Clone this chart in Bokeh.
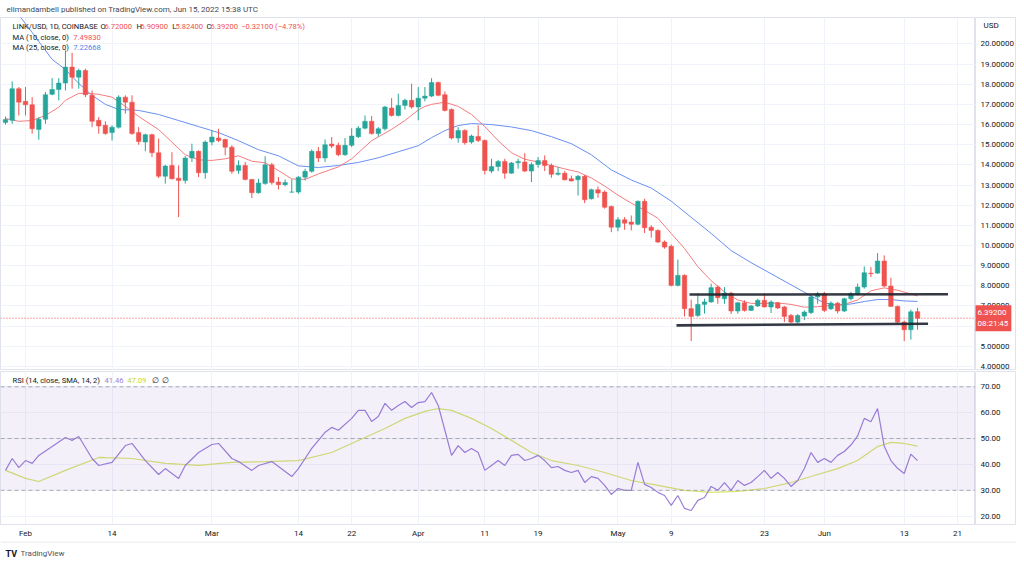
import numpy as np
import pandas as pd
from bokeh.plotting import figure
from bokeh.layouts import column, row
from bokeh.models import (ColumnDataSource, FixedTicker, Span, BoxAnnotation, Label,
                          Range1d, Grid)
from bokeh.core.properties import value
from bokeh.embed import file_html
from bokeh.resources import INLINE

FONT = "Roboto"
BASE = pd.Timestamp("2022-02-01")

# ---------------- data ----------------
candle_dates = pd.date_range("2022-01-29", "2022-06-15", freq="D").strftime("%Y-%m-%d").tolist()

opens = [16.10, 16.21, 17.78,
         17.15, 16.98, 15.76, 16.26, 17.50, 17.74, 18.06, 18.85, 18.35, 18.68, 17.45, 16.21, 15.96, 15.60,
         15.87, 17.36, 17.11, 15.60, 15.13, 15.50, 14.60, 13.44, 13.97, 13.34, 13.23, 14.34, 14.67, 13.61,
         15.13, 15.33, 15.26, 14.88, 13.72, 13.97, 13.28, 12.62, 13.07, 14.00, 13.15, 13.02, 12.65, 12.65,
         13.39, 13.68, 14.67, 14.34, 15.03, 14.97, 14.50, 14.97, 15.40, 15.82, 16.16, 15.55, 15.79, 16.82,
         16.45, 16.95, 17.20,
         16.87, 17.31, 17.41, 18.08, 17.48, 16.75, 15.33, 15.71, 15.13, 15.41, 15.21, 13.69, 13.92, 14.17,
         13.59, 14.10, 14.14, 13.69, 14.02, 14.22, 13.97, 13.53, 13.59, 13.31, 13.26, 13.43, 12.32, 12.77,
         12.65, 11.94,
         10.91, 11.28, 11.16, 11.05, 12.19, 10.91, 10.75, 10.17, 9.96, 8.02, 8.52, 6.87, 6.53, 7.08, 7.20,
         7.94, 7.36, 7.64, 6.75, 7.16, 6.78, 7.00, 7.28, 6.95, 7.16, 6.95, 6.53, 6.20, 6.50, 6.67, 7.45,
         7.61, 6.86, 7.14, 6.75, 7.36, 7.58, 7.94, 8.63, 8.63, 9.23, 7.99, 6.98, 6.20, 5.82, 6.72]
highs = [16.40, 18.14, 17.86,
         17.86, 17.36, 16.37, 17.61, 18.30, 18.30, 19.68, 19.56, 18.77, 18.77, 17.69, 16.37, 16.16, 15.96,
         17.45, 17.45, 17.45, 15.87, 15.55, 15.55, 15.30, 14.00, 14.63, 13.97, 14.43, 15.05, 14.72, 15.21,
         15.71, 15.79, 15.30, 14.97, 14.22, 14.14, 13.30, 13.31, 14.43, 14.10, 13.39, 13.28, 13.28, 13.44,
         13.81, 14.77, 14.88, 15.26, 15.38, 15.10, 15.33, 15.82, 15.92, 16.45, 16.42, 15.87, 16.92, 17.31,
         17.53, 17.28, 18.03,
         17.86, 17.86, 18.30, 18.13, 17.64, 16.80, 15.87, 15.76, 15.50, 15.96, 15.26, 14.30, 14.25, 14.30,
         14.14, 14.30, 14.58, 14.12, 14.39, 14.47, 14.07, 13.89, 13.69, 13.47, 13.50, 13.50, 12.82, 12.93,
         12.73, 11.98,
         11.41, 11.41, 11.49, 12.24, 12.32, 11.00, 10.80, 10.25, 10.05, 9.30, 8.57, 7.31, 7.61, 7.36, 8.11,
         8.02, 7.94, 7.70, 7.20, 7.28, 7.05, 7.36, 7.61, 7.28, 7.20, 7.00, 6.60, 6.60, 6.78, 7.53, 7.70,
         7.70, 7.23, 7.20, 7.41, 7.70, 8.11, 8.96, 8.93, 9.62, 9.51, 8.40, 7.02, 6.28, 6.82, 6.909]
lows = [16.00, 16.04, 16.45,
        16.45, 15.55, 15.25, 16.04, 17.45, 17.20, 17.69, 17.78, 17.78, 17.36, 15.87, 15.55, 15.50, 15.21,
        15.80, 16.54, 15.50, 15.00, 14.67, 14.39, 13.34, 13.07, 13.27, 11.41, 13.07, 14.14, 13.39, 13.31,
        14.97, 15.13, 14.47, 13.56, 13.56, 13.23, 12.35, 12.57, 13.02, 13.02, 12.78, 12.94, 12.62, 12.57,
        13.23, 13.61, 14.14, 14.14, 14.83, 14.43, 14.45, 14.88, 15.33, 15.76, 15.50, 15.40, 15.71, 16.40,
        16.40, 16.75, 16.79,
        16.21, 17.15, 17.36, 17.40, 16.65, 15.26, 15.10, 15.00, 15.05, 15.13, 13.53, 13.59, 13.69, 13.31,
        13.56, 13.81, 13.64, 13.15, 13.86, 13.69, 13.36, 13.47, 13.23, 13.18, 12.48, 12.10, 12.28, 12.37,
        11.83, 10.66,
        10.71, 10.78, 10.75, 11.00, 10.62, 10.39, 10.12, 9.84, 7.97, 7.97, 6.48, 5.26, 6.45, 6.62, 7.16,
        7.11, 7.11, 6.60, 6.62, 6.72, 6.75, 6.95, 6.93, 6.65, 6.85, 6.20, 6.15, 6.13, 6.30, 6.60, 7.11,
        6.70, 6.80, 6.63, 6.70, 7.28, 7.53, 7.86, 8.43, 8.60, 7.94, 6.95, 6.13, 5.26, 5.33, 5.824]
closes = [16.25, 17.78, 17.11,
          16.98, 15.79, 16.26, 17.48, 17.74, 18.06, 18.85, 18.35, 18.68, 17.48, 16.16, 15.93, 15.55, 15.87,
          17.36, 17.11, 15.55, 15.16, 15.50, 14.60, 13.44, 13.94, 13.31, 13.23, 14.34, 14.67, 13.61, 15.13,
          15.38, 15.21, 14.88, 13.68, 13.97, 13.28, 12.62, 13.10, 14.00, 13.12, 13.02, 13.12, 12.65, 13.39,
          13.68, 14.67, 14.34, 15.00, 14.93, 14.50, 14.97, 15.43, 15.82, 16.16, 15.55, 15.79, 16.87, 16.45,
          16.95, 17.20, 16.87,
          17.31, 17.41, 18.08, 17.45, 16.70, 15.33, 15.71, 15.10, 15.43, 15.21, 13.72, 13.92, 14.17, 13.59,
          14.09, 14.17, 13.69, 14.02, 14.22, 13.97, 13.53, 13.59, 13.26, 13.20, 13.43, 12.27, 12.77, 12.60,
          11.90, 10.91,
          11.28, 11.11, 11.05, 12.19, 10.88, 10.75, 10.17, 9.92, 8.02, 8.52, 6.87, 6.48, 7.08, 7.20, 7.91,
          7.41, 7.64, 6.75, 7.16, 6.78, 7.00, 7.28, 6.95, 7.20, 6.90, 6.48, 6.20, 6.53, 6.70, 7.45, 7.61,
          6.78, 7.14, 6.75, 7.36, 7.61, 7.94, 8.65, 8.60, 9.23, 7.99, 6.98, 6.20, 5.82, 6.713, 6.392]

ma10_dates = ["2022-01-29", "2022-01-31", "2022-02-02", "2022-02-04", "2022-02-06", "2022-02-07",
              "2022-02-09", "2022-02-11", "2022-02-12", "2022-02-14", "2022-02-16", "2022-02-18",
              "2022-02-21", "2022-02-23", "2022-02-25", "2022-02-27", "2022-03-01", "2022-03-03",
              "2022-03-05", "2022-03-07", "2022-03-09", "2022-03-11", "2022-03-13", "2022-03-15",
              "2022-03-17", "2022-03-20", "2022-03-22", "2022-03-25", "2022-03-28", "2022-03-30",
              "2022-04-01", "2022-04-02", "2022-04-03", "2022-04-05", "2022-04-07", "2022-04-09",
              "2022-04-11", "2022-04-13", "2022-04-15", "2022-04-17", "2022-04-19", "2022-04-21",
              "2022-04-23", "2022-04-25", "2022-04-27", "2022-04-29", "2022-05-01", "2022-05-03",
              "2022-05-05", "2022-05-07", "2022-05-09", "2022-05-11", "2022-05-13", "2022-05-15",
              "2022-05-17", "2022-05-19", "2022-05-21", "2022-05-23", "2022-05-25", "2022-05-27",
              "2022-05-29", "2022-05-31", "2022-06-02", "2022-06-04", "2022-06-06", "2022-06-08",
              "2022-06-10", "2022-06-12", "2022-06-14", "2022-06-15"]
ma10_vals = [16.30, 16.16, 16.20, 16.45, 16.86, 17.20, 17.55, 17.53, 17.50, 17.36, 16.90, 16.40,
             15.75, 15.13, 14.50, 14.25, 14.22, 14.30, 14.45, 14.18, 14.10, 13.72, 13.30, 13.28,
             13.55, 13.90, 14.30, 15.20, 15.76, 16.20, 16.72, 16.90, 17.00, 17.11, 16.90, 16.50,
             15.90, 15.20, 14.60, 14.28, 14.14, 13.97, 13.80, 13.65, 13.35, 12.95, 12.50, 12.10,
             11.75, 11.35, 10.60, 9.85, 8.95, 8.25, 7.70, 7.30, 7.13, 7.12, 7.15, 7.08,
             6.94, 6.96, 7.03, 7.08, 7.30, 7.75, 7.90, 7.78, 7.60, 7.4983]

ma25_dates = ["2022-01-29", "2022-02-01", "2022-02-02", "2022-02-03", "2022-02-05", "2022-02-07",
              "2022-02-09", "2022-02-11", "2022-02-13", "2022-02-15", "2022-02-18", "2022-02-21",
              "2022-02-24", "2022-02-27", "2022-03-02", "2022-03-05", "2022-03-08", "2022-03-11",
              "2022-03-14", "2022-03-17", "2022-03-20", "2022-03-23", "2022-03-26", "2022-03-29",
              "2022-04-01", "2022-04-03", "2022-04-05", "2022-04-07", "2022-04-09", "2022-04-12",
              "2022-04-15", "2022-04-18", "2022-04-21", "2022-04-24", "2022-04-27", "2022-04-30",
              "2022-05-03", "2022-05-06", "2022-05-09", "2022-05-12", "2022-05-15", "2022-05-18",
              "2022-05-21", "2022-05-24", "2022-05-27", "2022-05-30", "2022-06-01", "2022-06-03",
              "2022-06-05", "2022-06-07", "2022-06-09", "2022-06-11", "2022-06-13", "2022-06-15"]
ma25_vals = [22.3, 21.0, 20.57, 20.12, 19.23, 18.73, 18.04, 17.45, 17.0, 16.75, 16.7, 16.5,
             16.2, 15.9, 15.6, 15.2, 14.75, 14.45, 13.95, 13.87, 13.97, 14.12, 14.35, 14.65,
             14.95, 15.35, 15.7, 15.95, 16.05, 16.0, 15.88, 15.7, 15.4, 15.05, 14.5, 13.75,
             13.25, 12.85, 12.2, 11.4, 10.6, 9.75, 9.15, 8.6, 8.05, 7.5, 7.15, 7.04,
             7.1, 7.22, 7.32, 7.32, 7.25, 7.22668]

rsi_dates = ["2022-01-29", "2022-01-30", "2022-01-31", "2022-02-01", "2022-02-02", "2022-02-03",
             "2022-02-05", "2022-02-07", "2022-02-08", "2022-02-09", "2022-02-11", "2022-02-12",
             "2022-02-14", "2022-02-16", "2022-02-17", "2022-02-19", "2022-02-21", "2022-02-22",
             "2022-02-24", "2022-02-25", "2022-02-27", "2022-03-01", "2022-03-02", "2022-03-04",
             "2022-03-05", "2022-03-07", "2022-03-08", "2022-03-10", "2022-03-11", "2022-03-13",
             "2022-03-14", "2022-03-15", "2022-03-16", "2022-03-17", "2022-03-18", "2022-03-19",
             "2022-03-20", "2022-03-22", "2022-03-23", "2022-03-24", "2022-03-25", "2022-03-26",
             "2022-03-27", "2022-03-28", "2022-03-29", "2022-03-30", "2022-03-31", "2022-04-01",
             "2022-04-02", "2022-04-03", "2022-04-04", "2022-04-05", "2022-04-06", "2022-04-07",
             "2022-04-08", "2022-04-09", "2022-04-10", "2022-04-11", "2022-04-12", "2022-04-13",
             "2022-04-14", "2022-04-15", "2022-04-16", "2022-04-17", "2022-04-18", "2022-04-19",
             "2022-04-20", "2022-04-21", "2022-04-22", "2022-04-23", "2022-04-24", "2022-04-25",
             "2022-04-26", "2022-04-27", "2022-04-28", "2022-04-29", "2022-04-30", "2022-05-01",
             "2022-05-02", "2022-05-03", "2022-05-04", "2022-05-05", "2022-05-06", "2022-05-07",
             "2022-05-08", "2022-05-09", "2022-05-10", "2022-05-11", "2022-05-12", "2022-05-13",
             "2022-05-14", "2022-05-15", "2022-05-16", "2022-05-17", "2022-05-18", "2022-05-19",
             "2022-05-20", "2022-05-21", "2022-05-22", "2022-05-23", "2022-05-24", "2022-05-25",
             "2022-05-26", "2022-05-27", "2022-05-28", "2022-05-29", "2022-05-30", "2022-05-31",
             "2022-06-01", "2022-06-02", "2022-06-03", "2022-06-04", "2022-06-05", "2022-06-06",
             "2022-06-07", "2022-06-08", "2022-06-09", "2022-06-10", "2022-06-11", "2022-06-12",
             "2022-06-13", "2022-06-14", "2022-06-15"]
rsi_vals = [37.7, 42.3, 38.8, 41.5, 40.4, 43.5,
            46.9, 50.4, 49.3, 50.8, 42.3, 39.6,
            40.8, 47.3, 48.1, 41.5, 36.1, 38.4,
            34.6, 39.6, 44.6, 47.7, 48.1, 42.3,
            41.1, 37.7, 39.6, 41.1, 39.2, 35.3,
            38.4, 42.3, 46.2, 49.3, 52.4, 54.3,
            53.2, 57.8, 60.9, 60.9, 56.6, 58.5,
            63.6, 60.9, 62.8, 64.3, 62.0, 63.9,
            64.3, 67.8, 62.8, 53.2, 43.5, 47.3,
            44.6, 46.2, 44.6, 37.7, 39.6, 41.5,
            39.6, 43.5, 43.9, 41.5, 42.3, 43.5,
            41.5, 38.8, 39.2, 37.7, 36.9, 37.7,
            33.0, 35.3, 34.6, 31.9, 28.4, 30.7,
            30.0, 30.0, 40.8, 32.3, 31.1, 29.2,
            28.0, 24.2, 28.0, 23.0, 22.2, 26.1,
            27.2, 31.5, 30.0, 33.0, 30.0, 33.8,
            31.9, 33.0, 35.3, 37.7, 34.6, 36.9,
            34.6, 31.5, 33.8, 38.4, 44.6, 40.8,
            42.3, 40.8, 43.5, 45.0, 47.5, 51.0,
            57.8, 56.5, 61.6, 47.0, 41.5, 38.5,
            36.5, 44.0, 41.46]

rsi_ma_dates = ["2022-01-29", "2022-02-01", "2022-02-03", "2022-02-07", "2022-02-12", "2022-02-17",
                "2022-02-22", "2022-02-27", "2022-03-04", "2022-03-09", "2022-03-14", "2022-03-19",
                "2022-03-24", "2022-03-27", "2022-03-30", "2022-04-02", "2022-04-04", "2022-04-06",
                "2022-04-09", "2022-04-12", "2022-04-15", "2022-04-18", "2022-04-21", "2022-04-25",
                "2022-04-29", "2022-05-03", "2022-05-07", "2022-05-11", "2022-05-15", "2022-05-19",
                "2022-05-23", "2022-05-27", "2022-05-31", "2022-06-03", "2022-06-06", "2022-06-09",
                "2022-06-11", "2022-06-13", "2022-06-15"]
rsi_ma_vals = [37.7, 34.6, 33.4, 37.7, 42.7, 42.3,
               40.4, 39.6, 40.8, 41.1, 41.5, 44.6,
               50.4, 53.9, 57.8, 60.5, 61.6, 60.9,
               57.8, 53.9, 49.3, 44.6, 41.5, 39.6,
               36.9, 33.8, 31.9, 30.0, 29.2, 29.6,
               30.7, 33.0, 36.1, 38.4, 41.5, 46.9,
               48.5, 48.1, 47.09]

# user-drawn horizontal levels
level_start = ["2022-05-11 18:00", "2022-05-09 19:00"]
level_end = ["2022-06-19 14:00", "2022-06-16 14:00"]
level_from = [7.57, 6.04]
level_to = [7.58, 6.12]

price_ticks = [4, 5, 6, 7, 8, 9, 10, 11, 12, 13, 14, 15, 16, 17, 18, 19, 20]
rsi_ticks = [20, 30, 40, 50, 60, 70]
rsi_levels = [70, 50, 30]
x_tick_dates = ["2022-02-01", "2022-02-14", "2022-03-01", "2022-03-14", "2022-03-22", "2022-04-01",
                "2022-04-11", "2022-04-19", "2022-05-01", "2022-05-09", "2022-05-23", "2022-06-01",
                "2022-06-13", "2022-06-21"]
x_tick_labels = ["Feb", "14", "Mar", "14", "22", "Apr", "11", "19", "May", "9", "23", "Jun", "13", "21"]

# ---------------- helpers ----------------
def day(s):
    return ((pd.to_datetime(pd.Series(s)) - BASE) / pd.Timedelta(days=1)).to_numpy()

UP, DOWN = "#26a69a", "#ef5350"
GRID = "#f0f3fa"
BORDER = "#e0e3eb"
TXT = "#131722"
FS = "8px"       # scales / header
LS = "7.6px"     # in-pane legends

cx = day(candle_dates)
o = np.array(opens); h = np.array(highs); l = np.array(lows); c = np.array(closes)
col = np.where(c >= o, UP, DOWN)
src = ColumnDataSource(dict(x=cx, top=np.maximum(o, c), bottom=np.minimum(o, c), high=h, low=l, color=col))

xticks = [int(v) for v in day(x_tick_dates)]
xr = Range1d(-3.755, 142.71)

FW = 975      # chart frame width
AW = 41       # price-scale width
PH = 353      # price pane height
RH = 153      # rsi pane height
ABOT = 17     # time-axis height


def lab(fig, x, y, text, color=TXT, size=LS, align="left", baseline="middle", **kw):
    L = Label(x=x, y=y, x_units="screen", y_units="screen", text=text, text_color=color,
              text_font=FONT, text_font_size=size, text_align=align, text_baseline=baseline, **kw)
    fig.add_layout(L)
    return L


def strip_grids(f):
    f.center = [obj for obj in f.center if not isinstance(obj, Grid)]


def blank(w, hgt, **kw):
    f = figure(width=w, height=hgt, min_border=0, x_axis_location=None, y_axis_location=None,
               toolbar_location=None, output_backend="svg", **kw)
    strip_grids(f)
    f.outline_line_color = None
    f.background_fill_color = "white"
    f.border_fill_color = "white"
    return f

# ---------------- header strip ----------------
head = blank(FW + AW, 17, x_range=Range1d(0, FW + AW), y_range=Range1d(0, 17))
lab(head, 6, 8, "elimandambell published on TradingView.com, Jun 15, 2022 15:38 UTC",
    color="#434651", size=FS)

# ---------------- price pane ----------------
p = figure(frame_width=FW, frame_height=PH, x_range=xr, y_range=Range1d(3.80, 21.31),
           x_axis_location=None, y_axis_location=None, output_backend="svg",
           toolbar_location=None, min_border=0)
strip_grids(p)
p.outline_line_color = BORDER
p.background_fill_color = "white"
p.border_fill_color = "white"
p.add_layout(Grid(dimension=1, ticker=FixedTicker(ticks=price_ticks), grid_line_color=GRID))
p.add_layout(Grid(dimension=0, ticker=FixedTicker(ticks=xticks), grid_line_color=GRID))

p.line(day(ma25_dates), ma25_vals, line_color="#6a8ff2", line_width=1)
p.line(day(ma10_dates), ma10_vals, line_color="#f47c80", line_width=1)
p.segment(x0="x", y0="low", x1="x", y1="high", color="color", line_width=1, source=src)
p.vbar(x="x", width=0.68, top="top", bottom="bottom", fill_color="color", line_color="color",
       line_width=0.5, source=src)
p.segment(x0=day(level_start), y0=level_from, x1=day(level_end), y1=level_to,
          line_color="#1e222d", line_width=2.6, line_alpha=0.9)
p.add_layout(Span(location=closes[-1], dimension="width", line_color=DOWN,
                  line_dash="1 2", line_width=1))

prev_close = closes[-2]
chg = closes[-1] - prev_close
ROW1, ROW2, ROW3 = PH - 9, PH - 19.7, PH - 29.7
lab(p, 12, ROW1, "LINK/USD, 1D, COINBASE")
parts = [(100, "O", TXT), (104, f"{opens[-1]:.5f}", DOWN), (136, "H", TXT), (140, f"{highs[-1]:.5f}", DOWN),
         (171.7, "L", TXT), (175, f"{lows[-1]:.5f}", DOWN), (206, "C", TXT), (210, f"{closes[-1]:.5f}", DOWN),
         (240.7, f"\u2212{abs(chg):.5f} (\u2212{abs(chg) / prev_close * 100:.2f}%)", DOWN)]
for xx, t, cc in parts:
    lab(p, xx, ROW1, t, color=cc)
lab(p, 12, ROW2, "MA (10, close, 0)")
lab(p, 72.7, ROW2, f"{ma10_vals[-1]:.5f}", color="#f0525f")
lab(p, 12, ROW3, "MA (25, close, 0)")
lab(p, 72.7, ROW3, f"{ma25_vals[-1]:.5f}", color="#4f7fe8")

# price scale (right)
pa = figure(frame_width=AW, frame_height=PH, x_range=Range1d(0, AW), y_range=p.y_range,
            x_axis_location=None, y_axis_location=None, output_backend="svg",
            toolbar_location=None, min_border=0)
strip_grids(pa)
pa.outline_line_color = BORDER
pa.text(x=[5] * len(price_ticks), y=price_ticks, text=[f"{t:.5f}" for t in price_ticks],
        text_font=value(FONT), text_font_size=value(FS), text_color=TXT,
        text_align="left", text_baseline="middle")
lab(pa, 8, PH - 8, "USD", size=FS)
tag = Label(x=-1, y=closes[-1], x_units="screen", y_units="data",
            text=f"{closes[-1]:.5f}\n08:21:45", text_color="white", text_font=FONT,
            text_font_size=FS, text_align="left", text_baseline="middle",
            background_fill_color=DOWN, text_line_height=1.2)
try:
    tag.padding = 3
except Exception:
    pass
pa.add_layout(tag)

# ---------------- RSI pane ----------------
r = figure(frame_width=FW, frame_height=RH, x_range=xr, y_range=Range1d(16.79, 75.91),
           y_axis_location=None, output_backend="svg", toolbar_location=None,
           min_border_left=0, min_border_right=0, min_border_top=1, min_border_bottom=ABOT)
strip_grids(r)
r.outline_line_color = BORDER
r.background_fill_color = "white"
r.border_fill_color = "white"
r.add_layout(Grid(dimension=1, ticker=FixedTicker(ticks=rsi_ticks), grid_line_color=GRID))
r.add_layout(Grid(dimension=0, ticker=FixedTicker(ticks=xticks), grid_line_color=GRID))
rx = r.xaxis[0]
rx.ticker = FixedTicker(ticks=xticks)
rx.major_label_overrides = {t: s for t, s in zip(xticks, x_tick_labels)}
rx.major_label_text_font = FONT
rx.major_label_text_font_size = FS
rx.major_label_text_color = TXT
rx.axis_line_color = BORDER
rx.major_tick_line_color = None
rx.minor_tick_line_color = None
rx.major_tick_out = 0
rx.major_label_standoff = 4

r.add_layout(BoxAnnotation(bottom=30, top=70, fill_color="#7e57c2", fill_alpha=0.09, line_color=None))
for lv in rsi_levels:
    r.add_layout(Span(location=lv, dimension="width", line_color="#9598a1", line_dash="4 3",
                      line_width=1, line_alpha=0.8))
r.line(day(rsi_ma_dates), rsi_ma_vals, line_color="#d9e46f", line_width=1.2)
r.line(day(rsi_dates), rsi_vals, line_color="#9d80d8", line_width=1.2)

RL = RH - 8.7
lab(r, 12, RL, "RSI (14, close, SMA, 14, 2)")
lab(r, 104, RL, f"{rsi_vals[-1]:.2f}", color="#9d80d8")
lab(r, 126.7, RL, f"{rsi_ma_vals[-1]:.2f}", color="#c2d63e")
lab(r, 151.7, RL, "\u2205", color=TXT)
lab(r, 161, RL, "\u2205", color=TXT)

ra = figure(frame_width=AW, frame_height=RH, x_range=Range1d(0, AW), y_range=r.y_range,
            x_axis_location=None, y_axis_location=None, output_backend="svg", toolbar_location=None,
            min_border_left=0, min_border_right=0, min_border_top=1, min_border_bottom=ABOT)
strip_grids(ra)
ra.outline_line_color = BORDER
ra.text(x=[5] * len(rsi_ticks), y=rsi_ticks, text=[f"{t:.2f}" for t in rsi_ticks],
        text_font=value(FONT), text_font_size=value(FS), text_color=TXT,
        text_align="left", text_baseline="middle")

# ---------------- footer (logo) ----------------
foot = blank(FW + AW, 24, x_range=Range1d(0, FW + AW), y_range=Range1d(0, 24))
foot.add_layout(Span(location=23.5, dimension="width", line_color=BORDER, line_width=1))
lab(foot, 5, 12, "TV", color="#131722", size="9px", text_font_style="bold")
lab(foot, 20, 12, "TradingView", color="#50535e", size=FS)

layout = column(head, row(p, pa, spacing=0), row(r, ra, spacing=0), foot, spacing=0)
open("out.html", "w").write(file_html(layout, INLINE, title="LINK/USD"))
